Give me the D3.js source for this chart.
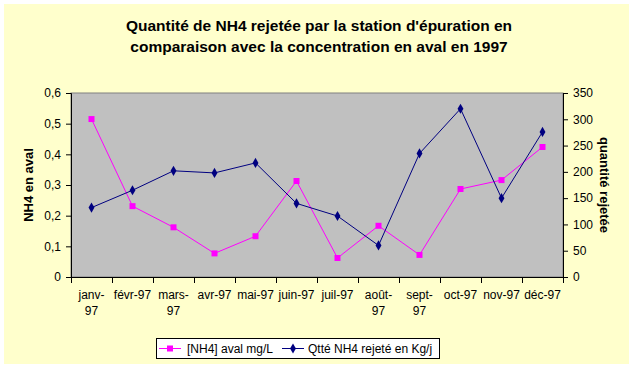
<!DOCTYPE html>
<html>
<head>
<meta charset="utf-8">
<script src="https://cdn.jsdelivr.net/npm/d3@7"></script>
<style>
  body { margin: 0; background: #fff; }
  text { font-family: Arial, "Liberation Sans", sans-serif; }
</style>
</head>
<body>
<div id="container"></div>
<script>
// data
const months = ['janv-97','févr-97','mars-97','avr-97','mai-97','juin-97','juil-97','août-97','sept-97','oct-97','nov-97','déc-97'];
const nh4Aval = [0.515, 0.231, 0.162, 0.077, 0.133, 0.313, 0.062, 0.167, 0.072, 0.287, 0.316, 0.424];
const qtteRejete = [132, 165, 202, 198, 217, 140, 116, 60, 235, 320, 150, 276];
const leftTicks = [0, 0.1, 0.2, 0.3, 0.4, 0.5, 0.6];
const rightTicks = [0, 50, 100, 150, 200, 250, 300, 350];
// labels that wrap on two lines
const wrapped = {'janv-97': ['janv-','97'], 'mars-97': ['mars-','97'], 'août-97': ['août-','97'], 'sept-97': ['sept-','97']};

const W = 636, H = 369;
const plot = {left: 71, right: 563, top: 93, bottom: 277};

const svg = d3.select('#container').append('svg')
  .attr('width', W).attr('height', H);

// chart background
svg.append('rect')
  .attr('x', 4).attr('y', 4).attr('width', 625).attr('height', 360)
  .attr('fill', '#FFFFCC');

// title
svg.append('text')
  .attr('x', 319).attr('y', 31)
  .attr('text-anchor', 'middle')
  .style('font-size', '15.5px').style('font-weight', 'bold')
  .text("Quantité de NH4 rejetée par la station d'épuration en");
svg.append('text')
  .attr('x', 319).attr('y', 52)
  .attr('text-anchor', 'middle')
  .style('font-size', '15.5px').style('font-weight', 'bold')
  .text('comparaison avec la concentration en aval en 1997');

// scales
const x = d3.scaleBand().domain(months).range([plot.left, plot.right]);
const yL = d3.scaleLinear().domain([0, 0.6]).range([plot.bottom, plot.top]);
const yR = d3.scaleLinear().domain([0, 350]).range([plot.bottom, plot.top]);

// plot area
svg.append('rect')
  .attr('x', plot.left).attr('y', plot.top)
  .attr('width', plot.right - plot.left).attr('height', plot.bottom - plot.top)
  .attr('fill', '#C0C0C0')
  .attr('stroke', '#808080');

// left axis
const leftAxis = svg.append('g')
  .attr('transform', `translate(${plot.left},0)`)
  .call(d3.axisLeft(yL).tickValues(leftTicks).tickSize(5).tickPadding(5)
    .tickFormat(d => d === 0 ? '0' : d3.format('.1f')(d).replace('.', ',')));

// right axis
const rightAxis = svg.append('g')
  .attr('transform', `translate(${plot.right},0)`)
  .call(d3.axisRight(yR).tickValues(rightTicks).tickSize(5).tickPadding(5));

// bottom axis: ticks between categories
const bottom = svg.append('g');
bottom.append('line')
  .attr('x1', plot.left).attr('x2', plot.right)
  .attr('y1', plot.bottom + 0.5).attr('y2', plot.bottom + 0.5)
  .attr('stroke', '#000');
bottom.selectAll('.tk')
  .data(d3.range(months.length + 1))
  .enter()
  .append('line')
  .attr('x1', i => Math.round(plot.left + i * x.step()) + 0.5)
  .attr('x2', i => Math.round(plot.left + i * x.step()) + 0.5)
  .attr('y1', plot.bottom)
  .attr('y2', plot.bottom + 6)
  .attr('stroke', '#000');

bottom.selectAll('.xl')
  .data(months)
  .enter()
  .append('text')
  .attr('text-anchor', 'middle')
  .style('font-size', '12px')
  .attr('fill', '#000')
  .each(function(d){
    const lines = wrapped[d] || [d];
    const t = d3.select(this);
    lines.forEach((l, i) => {
      t.append('tspan')
        .attr('x', x(d) + x.bandwidth() / 2)
        .attr('y', 299 + i * 16)
        .text(l);
    });
  });

[leftAxis, rightAxis].forEach(a => {
  a.select('.domain').attr('stroke', '#000');
  a.selectAll('.tick line').attr('stroke', '#000');
  a.selectAll('.tick text')
    .style('font-size', '12px')
    .style('font-family', 'Arial, "Liberation Sans", sans-serif')
    .attr('fill', '#000');
});

// axis titles
svg.append('text')
  .attr('transform', `translate(33,${(plot.top + plot.bottom) / 2}) rotate(-90)`)
  .attr('text-anchor', 'middle')
  .style('font-size', '13px').style('font-weight', 'bold')
  .text('NH4 en aval');
svg.append('text')
  .attr('transform', `translate(600,${(plot.top + plot.bottom) / 2}) rotate(90)`)
  .attr('text-anchor', 'middle')
  .style('font-size', '13px').style('font-weight', 'bold')
  .text('quantité rejetée');

// lines
const cx = d => x(d) + x.bandwidth() / 2;

const pinkLine = d3.line()
  .x((d, i) => cx(months[i]))
  .y(d => yL(d));
const blueLine = d3.line()
  .x((d, i) => cx(months[i]))
  .y(d => yR(d));

svg.append('path')
  .datum(nh4Aval)
  .attr('d', pinkLine)
  .attr('fill', 'none')
  .attr('stroke', '#FF00FF')
  .attr('stroke-width', 1);

svg.append('path')
  .datum(qtteRejete)
  .attr('d', blueLine)
  .attr('fill', 'none')
  .attr('stroke', '#000080')
  .attr('stroke-width', 1);

// markers
const sq = d3.symbol().type(d3.symbolSquare).size(36);
const dia = d3.symbol().type(d3.symbolDiamond).size(30);

svg.selectAll('.pm')
  .data(nh4Aval)
  .enter()
  .append('path')
  .attr('d', sq)
  .attr('transform', (d, i) => `translate(${cx(months[i])},${yL(d)})`)
  .attr('fill', '#FF00FF');

svg.selectAll('.bm')
  .data(qtteRejete)
  .enter()
  .append('path')
  .attr('d', dia)
  .attr('transform', (d, i) => `translate(${cx(months[i])},${yR(d)})`)
  .attr('fill', '#000080');

// legend
const legend = svg.append('g');
legend.append('rect')
  .attr('x', 156.5).attr('y', 338.5).attr('width', 283).attr('height', 20)
  .attr('fill', '#fff').attr('stroke', '#000');

legend.append('line')
  .attr('x1', 159).attr('x2', 181).attr('y1', 348.5).attr('y2', 348.5)
  .attr('stroke', '#FF00FF');
legend.append('path')
  .attr('d', sq)
  .attr('transform', 'translate(170,348.5)')
  .attr('fill', '#FF00FF');
legend.append('text')
  .attr('x', 187).attr('y', 353)
  .style('font-size', '12px')
  .text('[NH4] aval mg/L');

legend.append('line')
  .attr('x1', 282).attr('x2', 304).attr('y1', 348.5).attr('y2', 348.5)
  .attr('stroke', '#000080');
legend.append('path')
  .attr('d', dia)
  .attr('transform', 'translate(293,348.5)')
  .attr('fill', '#000080');
legend.append('text')
  .attr('x', 308).attr('y', 353)
  .style('font-size', '12px')
  .text('Qtté NH4 rejeté en Kg/j');
</script>
</body>
</html>
